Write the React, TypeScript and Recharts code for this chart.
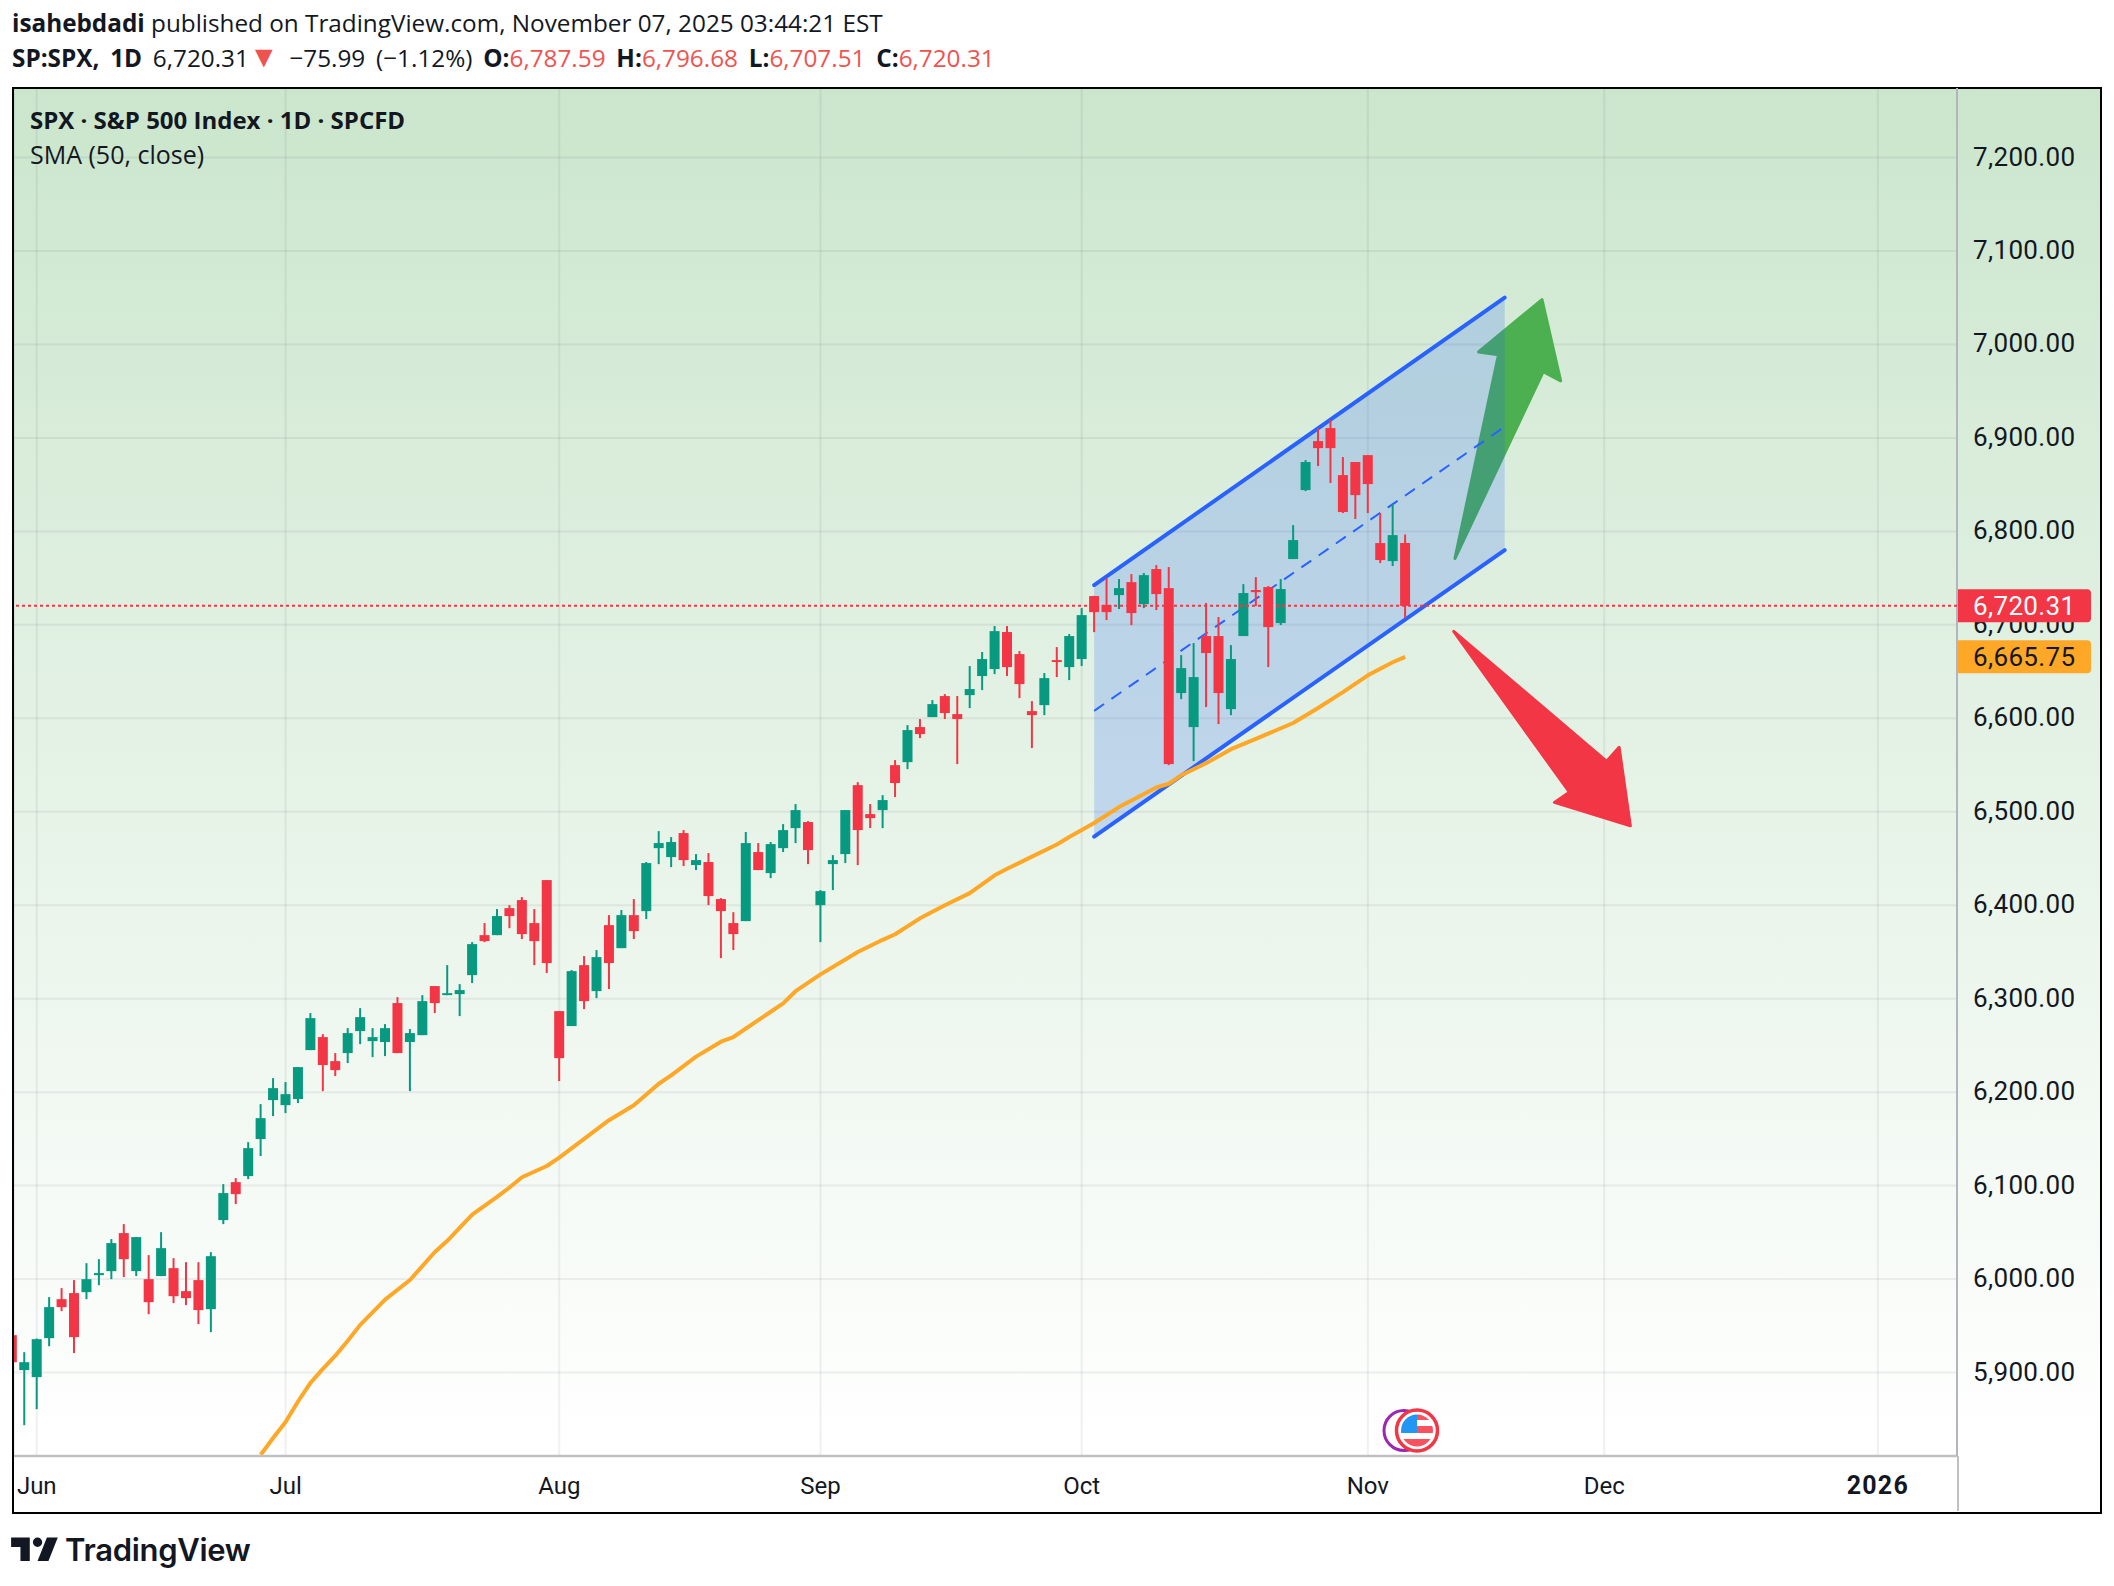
import {
  Area,
  Bar,
  CartesianGrid,
  ComposedChart,
  Line,
  ReferenceLine,
  Scatter,
  XAxis,
  YAxis,
} from "recharts";

const UP = "#089981";
const DOWN = "#F23645";
const BLUE = "#2962FF";
const SMA_COLOR = "#FFA726";
const FONT = "Roboto, sans-serif";
const HEAD_FONT = "'Open Sans', sans-serif";

// trading day number, Jun 2 = 0
const firstBar = -2;
const opens = [
  5940, 5902.6, 5895.1, 5936.8, 5978.5, 5985, 5986, 6004.2, 6008.5, 6049.2, 6008.5, 5999.9, 6003.2, 6011.7, 5987.1,
  5998.9, 5967.8, 6063.1, 6103.7, 6110.2, 6149.8, 6191.5, 6186.1, 6192.6, 6245, 6258.9, 6233.2, 6241.8, 6265.3, 6254.6,
  6253.6, 6295.3, 6253.6, 6261, 6313.5, 6303.8, 6304.9, 6325.2, 6368, 6368, 6396.9, 6405.5, 6380.9, 6426.9, 6286.7,
  6270.7, 6335.9, 6308.1, 6378.7, 6354.1, 6389.4, 6393.7, 6461.1, 6451.5, 6477.2, 6443, 6446.2, 6406.6, 6380.9, 6383,
  6456.9, 6434.4, 6461.1, 6482.5, 6489, 6400.1, 6444, 6454.7, 6528.5, 6497.5, 6501.8, 6549.9, 6553.1, 6590.6, 6601.3,
  6623.8, 6604.5, 6624.8, 6645.2, 6652.7, 6692.3, 6668.7, 6607.7, 6614.1, 6662.3, 6654.8, 6663.4, 6730.8, 6721.1,
  6731.8, 6745.7, 6722.2, 6759.7, 6739.3, 6627, 6590.6, 6688, 6688, 6609.8, 6688, 6737.2, 6740.4, 6701.9, 6770.4,
  6844.2, 6896.6, 6910.5, 6860.2, 6874.2, 6881.6, 6787.5, 6768.2, 6787.59,
];
const highs = [
  5940, 5921.8, 5936.4, 5980.7, 5990.3, 5998.9, 6017, 6021.3, 6042.8, 6058.8, 6044.9, 6025.6, 6050.2, 6022.4, 6018.1,
  6018.1, 6028.8, 6101.6, 6108, 6146.5, 6187.2, 6215, 6210.8, 6226.8, 6284.6, 6262.1, 6241.8, 6268.5, 6289.9, 6268.5,
  6272.8, 6301.7, 6267.5, 6303.8, 6313.5, 6335.9, 6315.6, 6360.5, 6380.9, 6395.9, 6400.1, 6408.7, 6395.9, 6426.9,
  6286.7, 6330.6, 6345.6, 6352, 6389.4, 6394.8, 6406.6, 6446.2, 6479.3, 6472.9, 6480.4, 6454.7, 6455.8, 6407.6, 6392.6,
  6478.3, 6466.5, 6467.6, 6486.8, 6508.2, 6490, 6416.2, 6453.6, 6501.8, 6531.7, 6508.2, 6517.8, 6555.3, 6592.7, 6599.2,
  6619.5, 6625.9, 6623.8, 6655.9, 6670.9, 6698.7, 6698.7, 6671.9, 6618.4, 6648.4, 6676.2, 6690.1, 6717.9, 6731, 6750,
  6749, 6754.3, 6755.4, 6763.9, 6761.8, 6667.6, 6680.5, 6723.3, 6708.3, 6678.3, 6743.6, 6751.1, 6741.5, 6749, 6806.7,
  6876.3, 6910.5, 6919.1, 6879.5, 6874.2, 6881.6, 6819.6, 6829.2, 6796.68,
];
const lows = [
  5911, 5843.7, 5860.8, 5928.2, 5965.7, 5920.8, 5978.5, 5993.5, 5999.9, 6002.1, 6003.2, 5962.5, 6003.2, 5974.3, 5972.1,
  5951.8, 5943.2, 6058.8, 6080.2, 6107, 6131.6, 6174.4, 6177.6, 6188.3, 6245, 6201.1, 6217.2, 6231.1, 6251.4, 6237.5,
  6238.6, 6241.8, 6201.1, 6261, 6284.6, 6303.8, 6281.4, 6316.7, 6360.5, 6368, 6375.5, 6363.8, 6335.9, 6327.4, 6211.8,
  6270.7, 6288.8, 6300.6, 6310.3, 6354.1, 6363.8, 6385.2, 6444, 6440.8, 6441.9, 6437.6, 6400.1, 6343.4, 6352, 6383,
  6437.6, 6429, 6456.9, 6466.5, 6444, 6360.5, 6416.2, 6445.1, 6442.9, 6482.5, 6482.5, 6515.7, 6545.6, 6578.8, 6601.3,
  6599.2, 6551, 6610.9, 6630.2, 6647.3, 6645.2, 6621.6, 6568.1, 6603.4, 6644.1, 6640.9, 6655.9, 6692.2, 6705.1, 6716.9,
  6699.7, 6717.9, 6715.8, 6549.9, 6620.5, 6554.2, 6612, 6593.8, 6603.4, 6688, 6720.1, 6654.8, 6699.7, 6770.4, 6843.1,
  6869.9, 6851.7, 6819.6, 6813.2, 6819.6, 6766.1, 6762.9, 6707.51,
];
const closes = [
  5911, 5911.1, 5935.7, 5970, 5970, 5937.9, 5999.9, 6006.4, 6038.5, 6021.3, 6044.9, 5975.3, 6033.1, 5981.7, 5979.6,
  5966.8, 6024.5, 6092, 6090.9, 6140.1, 6172.2, 6204.3, 6197.9, 6226.8, 6279.2, 6229, 6223.6, 6263.2, 6280.3, 6258.9,
  6268.5, 6241.8, 6263.2, 6297.4, 6295.3, 6305.9, 6309.2, 6358.4, 6361.6, 6388.4, 6388.4, 6369.1, 6361.6, 6338.1,
  6236.4, 6329.5, 6297.4, 6344.5, 6338.1, 6389.4, 6372.3, 6445.1, 6466.5, 6467.6, 6448.3, 6448.3, 6409.8, 6393.7,
  6369.1, 6466.5, 6437.6, 6465.4, 6480.4, 6501.8, 6459, 6415.1, 6448.3, 6501.8, 6480.4, 6493.2, 6512.5, 6530.7, 6587.4,
  6583.1, 6615.2, 6605.6, 6599.2, 6631.3, 6663.4, 6693.3, 6654.8, 6636.6, 6603.4, 6643, 6660.2, 6688, 6710.4, 6713.6,
  6713.6, 6739.3, 6712.6, 6753.2, 6732.9, 6551, 6653.7, 6644.1, 6669.8, 6627, 6663.4, 6734, 6735, 6697.6, 6738.3,
  6790.7, 6874.2, 6889.1, 6889.1, 6820.7, 6838.8, 6850.6, 6769.3, 6796, 6720.31,
];

const smaBars = [
  18, 19, 20, 21, 22, 23, 24, 25, 26, 28, 30, 32, 33, 35, 37, 38, 39, 41, 42, 44, 46, 48, 50, 51, 53, 55, 56, 58, 59, 60,
  61, 63, 65, 66, 68, 69, 71, 73, 75, 77, 78, 80, 82, 83, 85, 87, 88, 90, 91, 92, 94, 96, 98, 101, 103, 105, 107, 109, 110,
];
const smaValues = [
  5812, 5830, 5847, 5869, 5889, 5904, 5918, 5934, 5951, 5978, 5999, 6029, 6041, 6069, 6088, 6098, 6109, 6121, 6130, 6150,
  6170, 6186, 6209, 6218, 6238, 6254, 6259, 6277, 6286, 6295, 6308, 6326, 6342, 6350, 6363, 6369, 6386, 6400, 6413, 6432,
  6439, 6452, 6465, 6473, 6488, 6505, 6512, 6526, 6530, 6539, 6552, 6567, 6578, 6595, 6611, 6628, 6646, 6660, 6665.75,
];

const channelBars = [85, 118];
const channelUpper = [6742.5, 7050];
const channelMiddle = [6608, 6912];
const channelLower = [6473.5, 6780];

const greenArrowBars = [114, 117.5, 115.9, 121, 122.5, 121.1];
const greenArrowPrices = [6771, 6989, 6992, 7048, 6961, 6971];
const redArrowBars = [113.9, 126.2, 127.2, 128.1, 122, 123.2];
const redArrowPrices = [6693, 6554, 6569, 6485, 6510, 6521];

const priceTicks = [5900, 6000, 6100, 6200, 6300, 6400, 6500, 6600, 6700, 6800, 6900, 7000, 7100, 7200];
const timeTicks = [0, 20, 42, 63, 84, 107, 126, 148];
const timeLabels = ["Jun", "Jul", "Aug", "Sep", "Oct", "Nov", "Dec", "2026"];

const lastClose = 6720.31;
const lastSma = 6665.75;

const candleRows = opens.map((open, i) => ({
  bar: firstBar + i,
  open,
  high: highs[i],
  low: lows[i],
  close: closes[i],
  range: [lows[i], highs[i]],
}));
const smaRows = smaBars.map((bar, i) => ({ bar, sma: smaValues[i] }));
const channelRows = channelBars.map((bar, i) => ({
  bar,
  band: [channelLower[i], channelUpper[i]],
  upper: channelUpper[i],
  middle: channelMiddle[i],
  lower: channelLower[i],
}));
const greenArrowRows = greenArrowBars.map((bar, i) => ({ bar, price: greenArrowPrices[i] }));
const redArrowRows = redArrowBars.map((bar, i) => ({ bar, price: redArrowPrices[i] }));

function Candle(props: any) {
  const { x, y, width, height, payload } = props;
  const { open, high, low, close } = payload;
  const color = close < open ? DOWN : UP;
  const perPoint = height / (high - low);
  const top = y + (high - Math.max(open, close)) * perPoint;
  const bodyHeight = Math.max(Math.abs(open - close) * perPoint, 1.5);
  const mid = x + width / 2;
  return (
    <g>
      <line x1={mid} x2={mid} y1={y} y2={y + height} stroke={color} strokeWidth={2} />
      <rect x={mid - 5} y={top} width={10} height={bodyHeight} fill={color} />
    </g>
  );
}

// draws the whole arrow from the vertices the scatter has scaled
function arrowShape(color: string) {
  return (props: any) => (
    <polygon
      points={props.points.map((p: any) => `${p.x},${p.y}`).join(" ")}
      fill={color}
      stroke={color}
      strokeWidth={3}
      strokeLinejoin="round"
    />
  );
}

function priceTag(fill: string, color: string, text: string) {
  return (props: any) => {
    const y = props.viewBox.y;
    const x = props.viewBox.x + props.viewBox.width + 1;
    return (
      <g>
        <path d={`M${x} ${y - 16.5}h129a4 4 0 0 1 4 4v25a4 4 0 0 1 -4 4h-129z`} fill={fill} />
        <text x={x + 15} y={y + 9} fontFamily={FONT} fontSize={26} letterSpacing={0.35} fill={color}>
          {text}
        </text>
      </g>
    );
  };
}

function PriceTick(props: any) {
  const { x, y, payload } = props;
  const label = payload.value.toLocaleString("en-US", { minimumFractionDigits: 2, maximumFractionDigits: 2 });
  return (
    <text x={x + 1} y={y + 8} fontFamily={FONT} fontSize={26} letterSpacing={0.35} fill="#131722">
      {label}
    </text>
  );
}

function TimeTick(props: any) {
  const { x, y, payload } = props;
  const label = timeLabels[timeTicks.indexOf(payload.value)];
  const isYear = label === "2026";
  return (
    <text
      x={x}
      y={y + 30}
      textAnchor="middle"
      fontFamily={FONT}
      fontSize={isYear ? 25 : 24}
      fontWeight={isYear ? 700 : 400}
      letterSpacing={isYear ? 1.2 : 0}
      fill="#131722"
    >
      {label}
    </text>
  );
}

function UsFlag() {
  return (
    <svg style={{ position: "absolute", left: 1380, top: 1405, overflow: "visible" }} width={66} height={50}>
      <defs>
        <clipPath id="flagClip">
          <circle cx={37} cy={25.5} r={16} />
        </clipPath>
      </defs>
      <circle cx={24} cy={25.5} r={20} fill="none" stroke="#9C27B0" strokeWidth={3} />
      <circle cx={37} cy={25.5} r={20.5} fill="#fff" stroke={DOWN} strokeWidth={3.5} />
      <g clipPath="url(#flagClip)">
        <rect x={21} y={9} width={32} height={33} fill="#fff" />
        <rect x={37} y={9} width={16} height={6} fill="#F7525F" />
        <rect x={37} y={21} width={16} height={7} fill="#F7525F" />
        <rect x={21} y={34} width={32} height={8} fill="#F7525F" />
        <rect x={21} y={9} width={16} height={19} fill="#2196F3" />
      </g>
    </svg>
  );
}

const headLine = {
  position: "absolute" as const,
  fontFamily: HEAD_FONT,
  fontSize: 24.3,
  lineHeight: "32px",
  color: "#131722",
  whiteSpace: "nowrap" as const,
};

export default function App() {
  return (
    <div style={{ position: "absolute", left: 0, top: 0, width: 2114, height: 1586, background: "#fff", overflow: "hidden" }}>
      <div
        style={{
          position: "absolute",
          left: 13,
          top: 88,
          width: 2088,
          height: 1368,
          background: "linear-gradient(#CBE6CD, #FFFFFF)",
        }}
      />
      <div
        style={{
          position: "absolute",
          left: 12,
          top: 87,
          width: 2086,
          height: 1423,
          border: "2.5px solid #000",
        }}
      />
      <div style={{ position: "absolute", left: 1957, top: 1456, width: 2, height: 55, background: "#C0C0C0" }} />

      <div style={{ ...headLine, left: 12, top: 7 }}>
        <b>isahebdadi</b> published on TradingView.com, November 07, 2025 03:44:21 EST
      </div>
      <div style={{ ...headLine, left: 12, top: 42, wordSpacing: 4.5 }}>
        <b>SP:SPX, 1D</b> 6,720.31<span style={{ color: "#EF5350", fontSize: 30, lineHeight: "20px" }}>▼</span> −75.99 (−1.12%) <b>O:</b>
        <span style={{ color: "#EF5350" }}>6,787.59</span> <b>H:</b>
        <span style={{ color: "#EF5350" }}>6,796.68</span> <b>L:</b>
        <span style={{ color: "#EF5350" }}>6,707.51</span> <b>C:</b>
        <span style={{ color: "#EF5350" }}>6,720.31</span>
      </div>
      <div style={{ ...headLine, left: 30, top: 104, fontSize: 24, fontWeight: 700 }}>
        SPX · S&amp;P 500 Index · 1D · SPCFD
      </div>
      <div style={{ ...headLine, left: 30, top: 138, fontSize: 25 }}>
        SMA (50, close)
      </div>

      <div style={{ position: "absolute", left: 0, top: 0 }}>
        <ComposedChart
          width={2114}
          height={1586}
          data={candleRows}
          margin={{ top: 88, right: 0, bottom: 0, left: 14 }}
        >
          <CartesianGrid stroke="rgba(42,46,57,0.07)" strokeWidth={2} />
          <XAxis
            dataKey="bar"
            type="number"
            domain={[-1.83, 154.36]}
            ticks={timeTicks}
            allowDataOverflow
            height={130}
            interval={0}
            tick={<TimeTick />}
            tickLine={false}
            axisLine={{ stroke: "#C0C0C0", strokeWidth: 2.5 }}
          />
          <YAxis
            orientation="right"
            type="number"
            domain={[5810.7, 7274.4]}
            ticks={priceTicks}
            allowDataOverflow
            width={157}
            interval={0}
            tickSize={0}
            tickMargin={15}
            tickLine={false}
            axisLine={{ stroke: "#B2B5BE", strokeWidth: 2 }}
            tick={<PriceTick />}
          />
          <Scatter
            data={greenArrowRows}
            dataKey="price"
            line={arrowShape("#4CAF50")}
            shape={() => null}
            zIndex={50}
            isAnimationActive={false}
          />
          <Area
            data={channelRows}
            dataKey="band"
            type="linear"
            stroke="none"
            fill="#2962FF"
            fillOpacity={0.2}
            zIndex={100}
            isAnimationActive={false}
          />
          <Line data={channelRows} dataKey="upper" type="linear" stroke={BLUE} strokeWidth={4} strokeLinecap="round" dot={false} zIndex={150} isAnimationActive={false} />
          <Line data={channelRows} dataKey="lower" type="linear" stroke={BLUE} strokeWidth={4} strokeLinecap="round" dot={false} zIndex={150} isAnimationActive={false} />
          <Line data={channelRows} dataKey="middle" type="linear" stroke={BLUE} strokeWidth={2} strokeDasharray="12 9" dot={false} zIndex={150} isAnimationActive={false} />
          <Bar dataKey="range" barSize={10} shape={<Candle />} isAnimationActive={false} />
          <Line data={smaRows} dataKey="sma" type="linear" stroke={SMA_COLOR} strokeWidth={4} strokeLinejoin="round" dot={false} isAnimationActive={false} />
          <Scatter
            data={redArrowRows}
            dataKey="price"
            line={arrowShape(DOWN)}
            shape={() => null}
            isAnimationActive={false}
          />
          <ReferenceLine
            y={lastClose}
            stroke={DOWN}
            strokeWidth={2}
            strokeDasharray="3 3"
            zIndex={2500}
            label={priceTag(DOWN, "#fff", "6,720.31")}
          />
          <ReferenceLine y={lastSma} stroke="none" zIndex={2500} label={priceTag(SMA_COLOR, "#131722", "6,665.75")} />
        </ComposedChart>
      </div>

      <UsFlag />

      <svg style={{ position: "absolute", left: 8, top: 1528 }} width={56} height={44} viewBox="0 0 36 28">
        <path
          d="M14 6H2v6h6v9h6V6Zm12 15h-7l6-15h7l-6 15Zm-7-9a3 3 0 1 0 0-6 3 3 0 0 0 0 6Z"
          fill="#131722"
        />
      </svg>
      <div style={{ position: "absolute", left: 65, top: 1531, fontFamily: "Inter, sans-serif", fontSize: 31, fontWeight: 600, letterSpacing: -0.3, color: "#131722", whiteSpace: "nowrap" }}>
        TradingView
      </div>
    </div>
  );
}
